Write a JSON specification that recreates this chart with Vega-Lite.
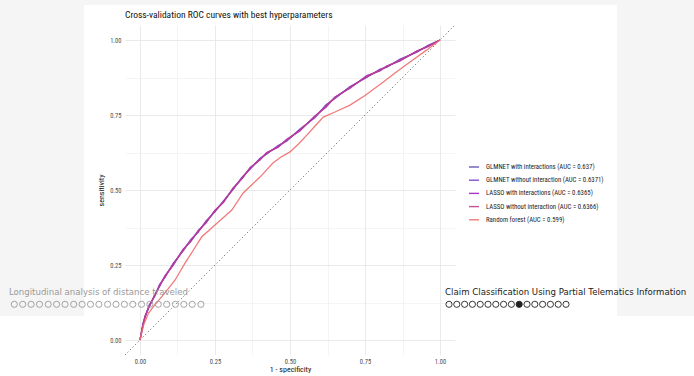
{
  "$schema": "https://vega.github.io/schema/vega-lite/v6.json",
  "width": 330,
  "height": 330,
  "autosize": {"type": "none"},
  "padding": {"left": 125, "top": 25, "right": 239, "bottom": 21},
  "background": "white",
  "config": {
    "font": "Roboto Condensed, Liberation Sans Narrow, Roboto",
    "view": {"stroke": null},
    "axis": {
      "ticks": false,
      "domain": false,
      "labelFontSize": 6.5,
      "labelColor": "#4d4d4d",
      "labelFlush": false,
      "titleFontSize": 8,
      "titleFontWeight": "normal",
      "titleColor": "#111111",
      "gridColor": "#e8e8e8"
    }
  },
  "datasets": {
    "frame": [
      {"x": -0.467, "x2": -0.187, "y": 1.134, "y2": 0.08},
      {"x": 1.59, "x2": 1.85, "y": 1.134, "y2": 0.08},
      {"x": -0.187, "x2": 1.59, "y": 1.134, "y2": 1.117}
    ],
    "heading": [
      {"x": -0.05, "y": 1.083, "label": "Cross-validation ROC curves with best hyperparameters"}
    ],
    "diag": [
      {"x": -0.05, "y": -0.05},
      {"x": 1.05, "y": 1.05}
    ],
    "roc": [
      {"model": "GLMNET with interactions (AUC = 0.637)", "x": 0, "y": 0},
      {"model": "GLMNET with interactions (AUC = 0.637)", "x": 0.01, "y": 0.052},
      {"model": "GLMNET with interactions (AUC = 0.637)", "x": 0.017, "y": 0.078},
      {"model": "GLMNET with interactions (AUC = 0.637)", "x": 0.03, "y": 0.112},
      {"model": "GLMNET with interactions (AUC = 0.637)", "x": 0.05, "y": 0.15},
      {"model": "GLMNET with interactions (AUC = 0.637)", "x": 0.065, "y": 0.182},
      {"model": "GLMNET with interactions (AUC = 0.637)", "x": 0.083, "y": 0.211},
      {"model": "GLMNET with interactions (AUC = 0.637)", "x": 0.11, "y": 0.252},
      {"model": "GLMNET with interactions (AUC = 0.637)", "x": 0.144, "y": 0.3},
      {"model": "GLMNET with interactions (AUC = 0.637)", "x": 0.17, "y": 0.332},
      {"model": "GLMNET with interactions (AUC = 0.637)", "x": 0.194, "y": 0.362},
      {"model": "GLMNET with interactions (AUC = 0.637)", "x": 0.22, "y": 0.394},
      {"model": "GLMNET with interactions (AUC = 0.637)", "x": 0.25, "y": 0.43},
      {"model": "GLMNET with interactions (AUC = 0.637)", "x": 0.278, "y": 0.461},
      {"model": "GLMNET with interactions (AUC = 0.637)", "x": 0.311, "y": 0.505},
      {"model": "GLMNET with interactions (AUC = 0.637)", "x": 0.34, "y": 0.54},
      {"model": "GLMNET with interactions (AUC = 0.637)", "x": 0.367, "y": 0.572},
      {"model": "GLMNET with interactions (AUC = 0.637)", "x": 0.4, "y": 0.603},
      {"model": "GLMNET with interactions (AUC = 0.637)", "x": 0.422, "y": 0.622},
      {"model": "GLMNET with interactions (AUC = 0.637)", "x": 0.46, "y": 0.645},
      {"model": "GLMNET with interactions (AUC = 0.637)", "x": 0.489, "y": 0.666},
      {"model": "GLMNET with interactions (AUC = 0.637)", "x": 0.533, "y": 0.7},
      {"model": "GLMNET with interactions (AUC = 0.637)", "x": 0.583, "y": 0.744},
      {"model": "GLMNET with interactions (AUC = 0.637)", "x": 0.62, "y": 0.78},
      {"model": "GLMNET with interactions (AUC = 0.637)", "x": 0.65, "y": 0.808},
      {"model": "GLMNET with interactions (AUC = 0.637)", "x": 0.7, "y": 0.842},
      {"model": "GLMNET with interactions (AUC = 0.637)", "x": 0.756, "y": 0.878},
      {"model": "GLMNET with interactions (AUC = 0.637)", "x": 0.8, "y": 0.9},
      {"model": "GLMNET with interactions (AUC = 0.637)", "x": 0.822, "y": 0.911},
      {"model": "GLMNET with interactions (AUC = 0.637)", "x": 0.867, "y": 0.933},
      {"model": "GLMNET with interactions (AUC = 0.637)", "x": 0.922, "y": 0.961},
      {"model": "GLMNET with interactions (AUC = 0.637)", "x": 0.96, "y": 0.98},
      {"model": "GLMNET with interactions (AUC = 0.637)", "x": 1, "y": 1},

      {"model": "GLMNET without interaction (AUC = 0.6371)", "x": 0, "y": 0},
      {"model": "GLMNET without interaction (AUC = 0.6371)", "x": 0.01, "y": 0.056},
      {"model": "GLMNET without interaction (AUC = 0.6371)", "x": 0.017, "y": 0.075},
      {"model": "GLMNET without interaction (AUC = 0.6371)", "x": 0.03, "y": 0.116},
      {"model": "GLMNET without interaction (AUC = 0.6371)", "x": 0.05, "y": 0.147},
      {"model": "GLMNET without interaction (AUC = 0.6371)", "x": 0.065, "y": 0.185},
      {"model": "GLMNET without interaction (AUC = 0.6371)", "x": 0.083, "y": 0.208},
      {"model": "GLMNET without interaction (AUC = 0.6371)", "x": 0.11, "y": 0.255},
      {"model": "GLMNET without interaction (AUC = 0.6371)", "x": 0.144, "y": 0.297},
      {"model": "GLMNET without interaction (AUC = 0.6371)", "x": 0.17, "y": 0.336},
      {"model": "GLMNET without interaction (AUC = 0.6371)", "x": 0.194, "y": 0.359},
      {"model": "GLMNET without interaction (AUC = 0.6371)", "x": 0.22, "y": 0.397},
      {"model": "GLMNET without interaction (AUC = 0.6371)", "x": 0.25, "y": 0.427},
      {"model": "GLMNET without interaction (AUC = 0.6371)", "x": 0.278, "y": 0.464},
      {"model": "GLMNET without interaction (AUC = 0.6371)", "x": 0.311, "y": 0.502},
      {"model": "GLMNET without interaction (AUC = 0.6371)", "x": 0.34, "y": 0.543},
      {"model": "GLMNET without interaction (AUC = 0.6371)", "x": 0.367, "y": 0.569},
      {"model": "GLMNET without interaction (AUC = 0.6371)", "x": 0.4, "y": 0.606},
      {"model": "GLMNET without interaction (AUC = 0.6371)", "x": 0.422, "y": 0.619},
      {"model": "GLMNET without interaction (AUC = 0.6371)", "x": 0.46, "y": 0.648},
      {"model": "GLMNET without interaction (AUC = 0.6371)", "x": 0.489, "y": 0.663},
      {"model": "GLMNET without interaction (AUC = 0.6371)", "x": 0.533, "y": 0.703},
      {"model": "GLMNET without interaction (AUC = 0.6371)", "x": 0.583, "y": 0.741},
      {"model": "GLMNET without interaction (AUC = 0.6371)", "x": 0.62, "y": 0.784},
      {"model": "GLMNET without interaction (AUC = 0.6371)", "x": 0.65, "y": 0.805},
      {"model": "GLMNET without interaction (AUC = 0.6371)", "x": 0.7, "y": 0.845},
      {"model": "GLMNET without interaction (AUC = 0.6371)", "x": 0.756, "y": 0.875},
      {"model": "GLMNET without interaction (AUC = 0.6371)", "x": 0.8, "y": 0.903},
      {"model": "GLMNET without interaction (AUC = 0.6371)", "x": 0.822, "y": 0.909},
      {"model": "GLMNET without interaction (AUC = 0.6371)", "x": 0.867, "y": 0.936},
      {"model": "GLMNET without interaction (AUC = 0.6371)", "x": 0.922, "y": 0.959},
      {"model": "GLMNET without interaction (AUC = 0.6371)", "x": 0.96, "y": 0.982},
      {"model": "GLMNET without interaction (AUC = 0.6371)", "x": 1, "y": 1},

      {"model": "LASSO with interactions (AUC = 0.6365)", "x": 0, "y": 0},
      {"model": "LASSO with interactions (AUC = 0.6365)", "x": 0.01, "y": 0.048},
      {"model": "LASSO with interactions (AUC = 0.6365)", "x": 0.017, "y": 0.081},
      {"model": "LASSO with interactions (AUC = 0.6365)", "x": 0.03, "y": 0.108},
      {"model": "LASSO with interactions (AUC = 0.6365)", "x": 0.05, "y": 0.153},
      {"model": "LASSO with interactions (AUC = 0.6365)", "x": 0.065, "y": 0.178},
      {"model": "LASSO with interactions (AUC = 0.6365)", "x": 0.083, "y": 0.214},
      {"model": "LASSO with interactions (AUC = 0.6365)", "x": 0.11, "y": 0.248},
      {"model": "LASSO with interactions (AUC = 0.6365)", "x": 0.144, "y": 0.303},
      {"model": "LASSO with interactions (AUC = 0.6365)", "x": 0.17, "y": 0.329},
      {"model": "LASSO with interactions (AUC = 0.6365)", "x": 0.194, "y": 0.365},
      {"model": "LASSO with interactions (AUC = 0.6365)", "x": 0.22, "y": 0.39},
      {"model": "LASSO with interactions (AUC = 0.6365)", "x": 0.25, "y": 0.433},
      {"model": "LASSO with interactions (AUC = 0.6365)", "x": 0.278, "y": 0.458},
      {"model": "LASSO with interactions (AUC = 0.6365)", "x": 0.311, "y": 0.508},
      {"model": "LASSO with interactions (AUC = 0.6365)", "x": 0.34, "y": 0.537},
      {"model": "LASSO with interactions (AUC = 0.6365)", "x": 0.367, "y": 0.575},
      {"model": "LASSO with interactions (AUC = 0.6365)", "x": 0.4, "y": 0.6},
      {"model": "LASSO with interactions (AUC = 0.6365)", "x": 0.422, "y": 0.625},
      {"model": "LASSO with interactions (AUC = 0.6365)", "x": 0.46, "y": 0.642},
      {"model": "LASSO with interactions (AUC = 0.6365)", "x": 0.489, "y": 0.669},
      {"model": "LASSO with interactions (AUC = 0.6365)", "x": 0.533, "y": 0.697},
      {"model": "LASSO with interactions (AUC = 0.6365)", "x": 0.583, "y": 0.747},
      {"model": "LASSO with interactions (AUC = 0.6365)", "x": 0.62, "y": 0.776},
      {"model": "LASSO with interactions (AUC = 0.6365)", "x": 0.65, "y": 0.81},
      {"model": "LASSO with interactions (AUC = 0.6365)", "x": 0.7, "y": 0.839},
      {"model": "LASSO with interactions (AUC = 0.6365)", "x": 0.756, "y": 0.881},
      {"model": "LASSO with interactions (AUC = 0.6365)", "x": 0.8, "y": 0.897},
      {"model": "LASSO with interactions (AUC = 0.6365)", "x": 0.822, "y": 0.913},
      {"model": "LASSO with interactions (AUC = 0.6365)", "x": 0.867, "y": 0.93},
      {"model": "LASSO with interactions (AUC = 0.6365)", "x": 0.922, "y": 0.963},
      {"model": "LASSO with interactions (AUC = 0.6365)", "x": 0.96, "y": 0.978},
      {"model": "LASSO with interactions (AUC = 0.6365)", "x": 1, "y": 1},

      {"model": "LASSO without interaction (AUC = 0.6366)", "x": 0, "y": 0},
      {"model": "LASSO without interaction (AUC = 0.6366)", "x": 0.01, "y": 0.05},
      {"model": "LASSO without interaction (AUC = 0.6366)", "x": 0.017, "y": 0.079},
      {"model": "LASSO without interaction (AUC = 0.6366)", "x": 0.03, "y": 0.11},
      {"model": "LASSO without interaction (AUC = 0.6366)", "x": 0.05, "y": 0.151},
      {"model": "LASSO without interaction (AUC = 0.6366)", "x": 0.065, "y": 0.18},
      {"model": "LASSO without interaction (AUC = 0.6366)", "x": 0.083, "y": 0.212},
      {"model": "LASSO without interaction (AUC = 0.6366)", "x": 0.11, "y": 0.25},
      {"model": "LASSO without interaction (AUC = 0.6366)", "x": 0.144, "y": 0.301},
      {"model": "LASSO without interaction (AUC = 0.6366)", "x": 0.17, "y": 0.331},
      {"model": "LASSO without interaction (AUC = 0.6366)", "x": 0.194, "y": 0.363},
      {"model": "LASSO without interaction (AUC = 0.6366)", "x": 0.22, "y": 0.392},
      {"model": "LASSO without interaction (AUC = 0.6366)", "x": 0.25, "y": 0.431},
      {"model": "LASSO without interaction (AUC = 0.6366)", "x": 0.278, "y": 0.46},
      {"model": "LASSO without interaction (AUC = 0.6366)", "x": 0.311, "y": 0.506},
      {"model": "LASSO without interaction (AUC = 0.6366)", "x": 0.34, "y": 0.539},
      {"model": "LASSO without interaction (AUC = 0.6366)", "x": 0.367, "y": 0.573},
      {"model": "LASSO without interaction (AUC = 0.6366)", "x": 0.4, "y": 0.602},
      {"model": "LASSO without interaction (AUC = 0.6366)", "x": 0.422, "y": 0.623},
      {"model": "LASSO without interaction (AUC = 0.6366)", "x": 0.46, "y": 0.644},
      {"model": "LASSO without interaction (AUC = 0.6366)", "x": 0.489, "y": 0.667},
      {"model": "LASSO without interaction (AUC = 0.6366)", "x": 0.533, "y": 0.699},
      {"model": "LASSO without interaction (AUC = 0.6366)", "x": 0.583, "y": 0.745},
      {"model": "LASSO without interaction (AUC = 0.6366)", "x": 0.62, "y": 0.779},
      {"model": "LASSO without interaction (AUC = 0.6366)", "x": 0.65, "y": 0.809},
      {"model": "LASSO without interaction (AUC = 0.6366)", "x": 0.7, "y": 0.841},
      {"model": "LASSO without interaction (AUC = 0.6366)", "x": 0.756, "y": 0.879},
      {"model": "LASSO without interaction (AUC = 0.6366)", "x": 0.8, "y": 0.899},
      {"model": "LASSO without interaction (AUC = 0.6366)", "x": 0.822, "y": 0.912},
      {"model": "LASSO without interaction (AUC = 0.6366)", "x": 0.867, "y": 0.932},
      {"model": "LASSO without interaction (AUC = 0.6366)", "x": 0.922, "y": 0.962},
      {"model": "LASSO without interaction (AUC = 0.6366)", "x": 0.96, "y": 0.979},
      {"model": "LASSO without interaction (AUC = 0.6366)", "x": 1, "y": 1},

      {"model": "Random forest (AUC = 0.599)", "x": 0, "y": 0},
      {"model": "Random forest (AUC = 0.599)", "x": 0.012, "y": 0.05},
      {"model": "Random forest (AUC = 0.599)", "x": 0.028, "y": 0.089},
      {"model": "Random forest (AUC = 0.599)", "x": 0.05, "y": 0.118},
      {"model": "Random forest (AUC = 0.599)", "x": 0.072, "y": 0.144},
      {"model": "Random forest (AUC = 0.599)", "x": 0.095, "y": 0.172},
      {"model": "Random forest (AUC = 0.599)", "x": 0.117, "y": 0.2},
      {"model": "Random forest (AUC = 0.599)", "x": 0.15, "y": 0.256},
      {"model": "Random forest (AUC = 0.599)", "x": 0.178, "y": 0.3},
      {"model": "Random forest (AUC = 0.599)", "x": 0.206, "y": 0.344},
      {"model": "Random forest (AUC = 0.599)", "x": 0.25, "y": 0.383},
      {"model": "Random forest (AUC = 0.599)", "x": 0.28, "y": 0.41},
      {"model": "Random forest (AUC = 0.599)", "x": 0.306, "y": 0.433},
      {"model": "Random forest (AUC = 0.599)", "x": 0.344, "y": 0.49},
      {"model": "Random forest (AUC = 0.599)", "x": 0.37, "y": 0.515},
      {"model": "Random forest (AUC = 0.599)", "x": 0.4, "y": 0.543},
      {"model": "Random forest (AUC = 0.599)", "x": 0.443, "y": 0.59},
      {"model": "Random forest (AUC = 0.599)", "x": 0.47, "y": 0.61},
      {"model": "Random forest (AUC = 0.599)", "x": 0.5, "y": 0.627},
      {"model": "Random forest (AUC = 0.599)", "x": 0.53, "y": 0.655},
      {"model": "Random forest (AUC = 0.599)", "x": 0.556, "y": 0.683},
      {"model": "Random forest (AUC = 0.599)", "x": 0.585, "y": 0.715},
      {"model": "Random forest (AUC = 0.599)", "x": 0.611, "y": 0.743},
      {"model": "Random forest (AUC = 0.599)", "x": 0.65, "y": 0.76},
      {"model": "Random forest (AUC = 0.599)", "x": 0.7, "y": 0.783},
      {"model": "Random forest (AUC = 0.599)", "x": 0.75, "y": 0.815},
      {"model": "Random forest (AUC = 0.599)", "x": 0.811, "y": 0.86},
      {"model": "Random forest (AUC = 0.599)", "x": 0.85, "y": 0.89},
      {"model": "Random forest (AUC = 0.599)", "x": 0.9, "y": 0.927},
      {"model": "Random forest (AUC = 0.599)", "x": 0.956, "y": 0.967},
      {"model": "Random forest (AUC = 0.599)", "x": 1, "y": 1}
    ],
    "navText": [
      {"x": -0.437, "y": 0.16, "label": "Longitudinal analysis of distance traveled", "active": false},
      {"x": 1.017, "y": 0.16, "label": "Claim Classification Using Partial Telematics Information", "active": true}
    ],
    "navDots": [
      {"x": -0.419, "y": 0.119, "active": false, "current": false},
      {"x": -0.391, "y": 0.119, "active": false, "current": false},
      {"x": -0.363, "y": 0.119, "active": false, "current": false},
      {"x": -0.335, "y": 0.119, "active": false, "current": false},
      {"x": -0.306, "y": 0.119, "active": false, "current": false},
      {"x": -0.278, "y": 0.119, "active": false, "current": false},
      {"x": -0.25, "y": 0.119, "active": false, "current": false},
      {"x": -0.221, "y": 0.119, "active": false, "current": false},
      {"x": -0.193, "y": 0.119, "active": false, "current": false},
      {"x": -0.165, "y": 0.119, "active": false, "current": false},
      {"x": -0.137, "y": 0.119, "active": false, "current": false},
      {"x": -0.108, "y": 0.119, "active": false, "current": false},
      {"x": -0.08, "y": 0.119, "active": false, "current": false},
      {"x": -0.052, "y": 0.119, "active": false, "current": false},
      {"x": -0.024, "y": 0.119, "active": false, "current": false},
      {"x": 0.005, "y": 0.119, "active": false, "current": false},
      {"x": 0.033, "y": 0.119, "active": false, "current": false},
      {"x": 0.061, "y": 0.119, "active": false, "current": false},
      {"x": 0.089, "y": 0.119, "active": false, "current": false},
      {"x": 0.118, "y": 0.119, "active": false, "current": false},
      {"x": 0.146, "y": 0.119, "active": false, "current": false},
      {"x": 0.174, "y": 0.119, "active": false, "current": false},
      {"x": 0.203, "y": 0.119, "active": false, "current": false},
      {"x": 1.03, "y": 0.119, "active": true, "current": false},
      {"x": 1.056, "y": 0.119, "active": true, "current": false},
      {"x": 1.082, "y": 0.119, "active": true, "current": false},
      {"x": 1.108, "y": 0.119, "active": true, "current": false},
      {"x": 1.134, "y": 0.119, "active": true, "current": false},
      {"x": 1.16, "y": 0.119, "active": true, "current": false},
      {"x": 1.186, "y": 0.119, "active": true, "current": false},
      {"x": 1.212, "y": 0.119, "active": true, "current": false},
      {"x": 1.238, "y": 0.119, "active": true, "current": false},
      {"x": 1.264, "y": 0.119, "active": true, "current": true},
      {"x": 1.29, "y": 0.119, "active": true, "current": false},
      {"x": 1.316, "y": 0.119, "active": true, "current": false},
      {"x": 1.342, "y": 0.119, "active": true, "current": false},
      {"x": 1.368, "y": 0.119, "active": true, "current": false},
      {"x": 1.394, "y": 0.119, "active": true, "current": false},
      {"x": 1.42, "y": 0.119, "active": true, "current": false}
    ]
  },
  "encoding": {
    "x": {
      "field": "x",
      "type": "quantitative",
      "scale": {"domain": [-0.05, 1.05], "nice": false, "zero": false},
      "axis": {
        "values": [0, 0.125, 0.25, 0.375, 0.5, 0.625, 0.75, 0.875, 1],
        "labelExpr": "(datum.value * 8) % 2 == 0 ? format(datum.value, '.2f') : ''",
        "gridWidth": {"condition": {"test": "(datum.value * 8) % 2 != 0", "value": 0.5}, "value": 0.9},
        "labelPadding": 3,
        "title": "1 - specificity",
        "titlePadding": 1
      }
    },
    "y": {
      "field": "y",
      "type": "quantitative",
      "scale": {"domain": [-0.05, 1.05], "nice": false, "zero": false},
      "axis": {
        "values": [0, 0.125, 0.25, 0.375, 0.5, 0.625, 0.75, 0.875, 1],
        "labelExpr": "(datum.value * 8) % 2 == 0 ? format(datum.value, '.2f') : ''",
        "gridWidth": {"condition": {"test": "(datum.value * 8) % 2 != 0", "value": 0.5}, "value": 0.9},
        "labelPadding": 4,
        "title": "sensitivity",
        "titlePadding": 4
      }
    }
  },
  "layer": [
    {
      "data": {"name": "frame"},
      "mark": {"type": "rect", "fill": "#f5f5f5", "clip": false},
      "encoding": {"x2": {"field": "x2"}, "y2": {"field": "y2"}}
    },
    {
      "data": {"name": "heading"},
      "mark": {"type": "text", "align": "left", "baseline": "middle", "fontSize": 9.5, "color": "#111111", "clip": false},
      "encoding": {"text": {"field": "label"}}
    },
    {
      "data": {"name": "diag"},
      "mark": {"type": "line", "color": "#333333", "strokeWidth": 0.8, "strokeDash": [1, 2.6]},
      "encoding": {}
    },
    {
      "data": {"name": "roc"},
      "mark": {"type": "line", "strokeWidth": 1.3, "opacity": 0.9},
      "encoding": {
        "order": {"field": "x", "type": "quantitative"},
        "color": {
          "field": "model",
          "type": "nominal",
          "scale": {
            "domain": [
              "GLMNET with interactions (AUC = 0.637)",
              "GLMNET without interaction (AUC = 0.6371)",
              "LASSO with interactions (AUC = 0.6365)",
              "LASSO without interaction (AUC = 0.6366)",
              "Random forest (AUC = 0.599)"
            ],
            "range": ["#5a48b4", "#7a3ec8", "#a020c4", "#c0408c", "#ee6b6b"]
          },
          "legend": {
            "title": null,
            "orient": "none",
            "legendX": 343,
            "legendY": 136,
            "symbolType": "stroke",
            "symbolSize": 100,
            "symbolStrokeWidth": 1.4,
            "labelFontSize": 6.8,
            "labelColor": "#222222",
            "labelOffset": 6,
            "rowPadding": 3.2
          }
        }
      }
    },
    {
      "data": {"name": "navText"},
      "mark": {"type": "text", "align": "left", "baseline": "middle", "font": "DejaVu Sans", "fontSize": 8.6, "clip": false},
      "encoding": {
        "text": {"field": "label"},
        "color": {"condition": {"test": "datum.active", "value": "#222222"}, "value": "#9a9a9a"}
      }
    },
    {
      "data": {"name": "navDots"},
      "mark": {"type": "point", "shape": "circle", "size": 38, "strokeWidth": 0.9, "opacity": 1, "clip": false},
      "encoding": {
        "stroke": {"condition": {"test": "datum.active", "value": "#222222"}, "value": "#9a9a9a"},
        "fill": {"condition": {"test": "datum.current", "value": "#222222"}, "value": "transparent"}
      }
    }
  ]
}
